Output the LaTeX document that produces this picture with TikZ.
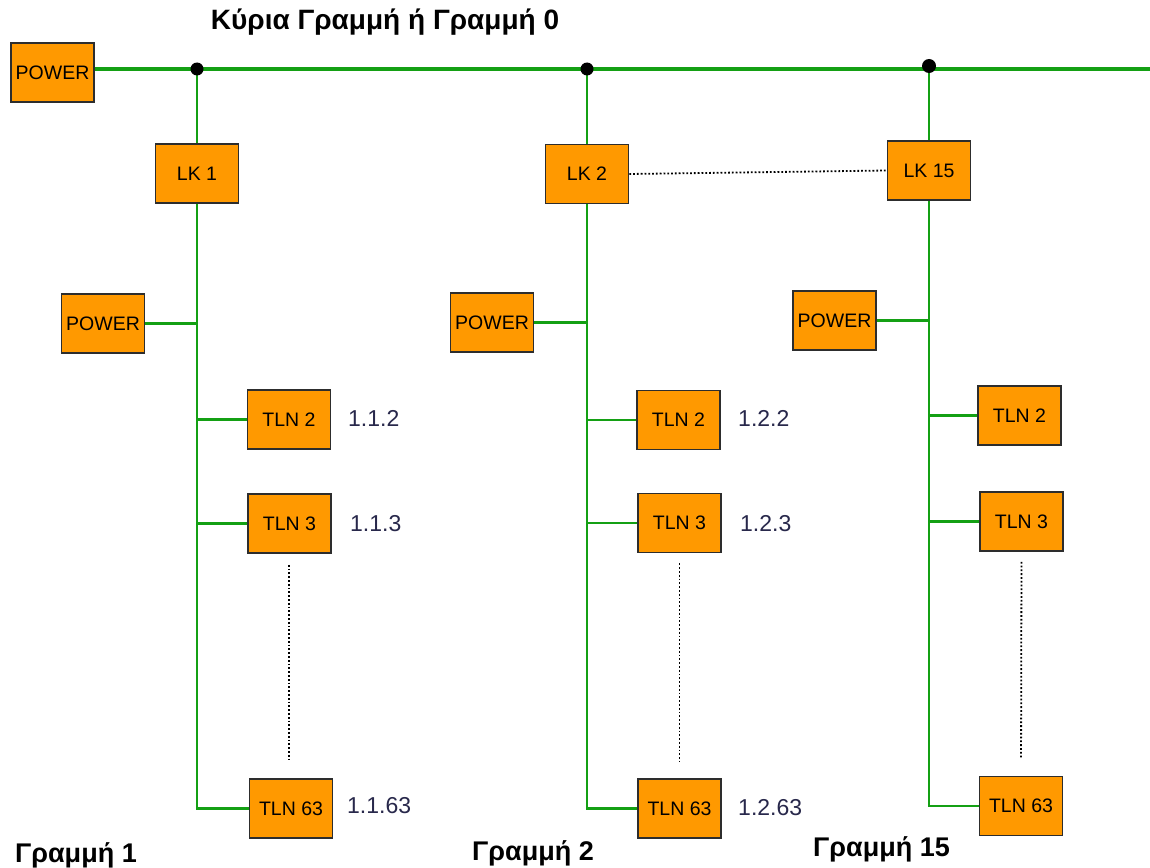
\documentclass[tikz,border=0pt]{standalone}
\usepackage{fontspec}
\setmainfont{Liberation Sans}
\definecolor{boxorange}{HTML}{FF9900}
\definecolor{busgreen}{RGB}{20,160,20}
\definecolor{boxedge}{RGB}{45,45,45}
\definecolor{addr}{RGB}{40,40,75}
\begin{document}
\begin{tikzpicture}[x=1pt,y=-1pt,
  unitbox/.style={draw=boxedge,line width=1.6pt,fill=boxorange,minimum width=83pt,minimum height=59pt,inner sep=0pt,font=\fontsize{19.5}{21}\selectfont},
  bus/.style={busgreen,line width=3.6pt},
  wire/.style={busgreen,line width=2.4pt},
  dots/.style={black,dotted,line width=1.8pt},
  addrlabel/.style={anchor=west,text=addr,font=\fontsize{23}{25}\selectfont,inner sep=0pt},
  linelabel/.style={anchor=west,font=\bfseries\fontsize{27}{29}\selectfont,inner sep=0pt},
  junction/.style={circle,fill=black,minimum size=13pt,inner sep=0pt}]
\useasboundingbox (0,0) rectangle (1150,867);
\fill[white] (0,0) rectangle (1150,867);

% title
\node[font=\bfseries\fontsize{28}{30}\selectfont,inner sep=0pt] (title) at (385,22) {Κύρια Γραμμή ή Γραμμή 0};

% main line
\node[unitbox] (pw0) at (52.5,72.5) {POWER};
\coordinate (busend) at (1150,69);
\coordinate (j1) at (197,69);
\coordinate (j2) at (587,69);
\coordinate (j3) at (929,69);
\draw[bus] (pw0.east |- busend) -- (busend);

% line 1
\node[unitbox] (lk1) at (197,173.5) {LK 1};
\node[unitbox] (pw1) at (103,323.5) {POWER};
\node[unitbox] (t12) at (289,419.5) {TLN 2};
\node[unitbox] (t13) at (289.5,523.5) {TLN 3};
\node[unitbox] (t163) at (291,808.5) {TLN 63};
\draw[wire] (j1) -- (lk1.north);
\draw[wire] (lk1.south) -- (lk1.south |- t163.west) -- (t163.west);
\draw[wire] (pw1.east) -- (pw1.east -| lk1.south);
\draw[wire] (t12.west) -- (t12.west -| lk1.south);
\draw[wire] (t13.west) -- (t13.west -| lk1.south);
\draw[dots,shorten <=11pt,shorten >=17pt] (t13.south -| t163.north) ++(-2,0) coordinate (d1a) (d1a) -- (t163.north -| d1a);
\node[addrlabel] (a112) at (348,418) {1.1.2};
\node[addrlabel] (a113) at (350,524) {1.1.3};
\node[addrlabel] (a1163) at (347,806) {1.1.63};
\node[linelabel] (g1) at (15,855) {Γραμμή 1};

% line 2
\node[unitbox] (lk2) at (587,174) {LK 2};
\node[unitbox] (pw2) at (492,322.5) {POWER};
\node[unitbox] (t22) at (678.5,420) {TLN 2};
\node[unitbox] (t23) at (679.5,523) {TLN 3};
\node[unitbox] (t263) at (679.5,808.5) {TLN 63};
\draw[wire] (j2) -- (lk2.north);
\draw[wire] (lk2.south) -- (lk2.south |- t263.west) -- (t263.west);
\draw[wire] (pw2.east) -- (pw2.east -| lk2.south);
\draw[wire] (t22.west) -- (t22.west -| lk2.south);
\draw[wire] (t23.west) -- (t23.west -| lk2.south);
\draw[dots,shorten <=10pt,shorten >=17pt] (t23.south) -- (t263.north);
\node[addrlabel] (a222) at (738,418) {1.2.2};
\node[addrlabel] (a223) at (740,524) {1.2.3};
\node[addrlabel] (a2263) at (738,808) {1.2.63};
\node[linelabel] (g2) at (472,853) {Γραμμή 2};

% line 15
\node[unitbox] (lk15) at (929,170.5) {LK 15};
\node[unitbox] (pw3) at (834.5,320.5) {POWER};
\node[unitbox] (t32) at (1019.5,415.5) {TLN 2};
\node[unitbox] (t33) at (1021.5,521.5) {TLN 3};
\node[unitbox] (t363) at (1021,806) {TLN 63};
\draw[wire] (j3) -- (lk15.north);
\draw[wire] (lk15.south) -- (lk15.south |- t363.west) -- (t363.west);
\draw[wire] (pw3.east) -- (pw3.east -| lk15.south);
\draw[wire] (t32.west) -- (t32.west -| lk15.south);
\draw[wire] (t33.west) -- (t33.west -| lk15.south);
\draw[dots,shorten <=10pt,shorten >=17pt] (t33.south) -- (t363.north);
\node[linelabel] (g15) at (813,849) {Γραμμή 15};

% link between line couplers
\draw[dots] (lk2.east) -- (lk15.west);

% junction dots
\node[junction] (dj1) at (j1) {};
\node[junction] (dj2) at (j2) {};
\node[junction,minimum height=14pt] (dj3) at (929,66) {};
\end{tikzpicture}
\end{document}
